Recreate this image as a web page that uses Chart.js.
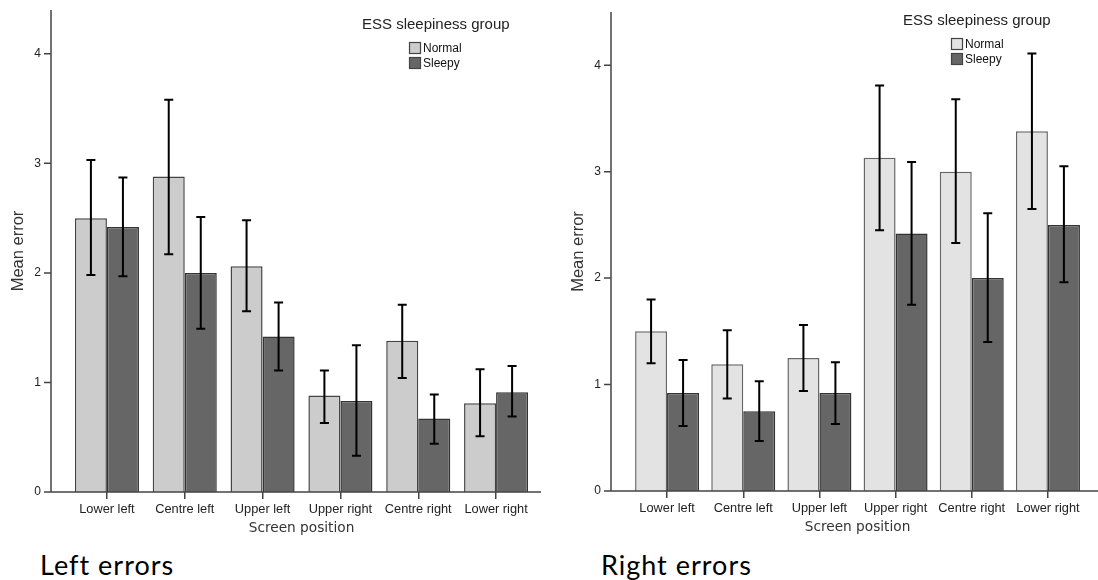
<!DOCTYPE html>
<html>
<head>
<meta charset="utf-8">
<script src="https://cdn.jsdelivr.net/npm/chart.js@4.4.1/dist/chart.umd.min.js"></script>
<style>
  body { margin: 0; background: #fff; }
  #wrap { position: relative; width: 1098px; height: 580px; overflow: hidden; background: #fff; }
  canvas { position: absolute; top: 0; }
  #left-chart { left: 0; }
  #right-chart { left: 560px; }
  .caption { position: absolute; font-family: Lato, "Open Sans", sans-serif; font-size: 27px; letter-spacing: 1px; line-height: 1; color: #000; }
</style>
</head>
<body>
<div id="wrap">
  <canvas id="left-chart" width="550" height="540"></canvas>
  <canvas id="right-chart" width="538" height="540"></canvas>
  <div class="caption" style="left:40px; top:551px;">Left errors</div>
  <div class="caption" style="left:601px; top:551px;">Right errors</div>
</div>
<script>
// Screen positions (x categories)
const positions = ['Lower left', 'Centre left', 'Upper left', 'Upper right', 'Centre right', 'Lower right'];
const groups = ['Normal', 'Sleepy'];
const yTicks = [0, 1, 2, 3, 4];

// Left errors: means and error bar ends
const leftNormal = [2.50, 2.88, 2.06, 0.88, 1.38, 0.81];
const leftNormalLow = [1.98, 2.17, 1.65, 0.63, 1.04, 0.51];
const leftNormalHigh = [3.03, 3.58, 2.48, 1.11, 1.71, 1.12];
const leftSleepy = [2.42, 2.00, 1.42, 0.83, 0.67, 0.91];
const leftSleepyLow = [1.97, 1.49, 1.11, 0.33, 0.44, 0.69];
const leftSleepyHigh = [2.87, 2.51, 1.73, 1.34, 0.89, 1.15];

// Right errors: means and error bar ends
const rightNormal = [1.50, 1.19, 1.25, 3.13, 3.00, 3.38];
const rightNormalLow = [1.20, 0.87, 0.94, 2.45, 2.33, 2.65];
const rightNormalHigh = [1.80, 1.51, 1.56, 3.81, 3.68, 4.11];
const rightSleepy = [0.92, 0.75, 0.92, 2.42, 2.00, 2.50];
const rightSleepyLow = [0.61, 0.47, 0.63, 1.75, 1.40, 1.96];
const rightSleepyHigh = [1.23, 1.03, 1.21, 3.09, 2.61, 3.05];

const SANS = '"Liberation Sans", Arial, sans-serif';

// Axis lines sit a bit left of the first bar group, like SPSS draws them
const framePlugin = {
  id: 'frame',
  afterDraw(chart, args, opts) {
    const ctx = chart.ctx;
    const area = chart.chartArea;
    const y = chart.scales.y;
    ctx.save();
    ctx.strokeStyle = '#444';
    ctx.lineWidth = 1.5;
    ctx.beginPath();
    ctx.moveTo(opts.axisX, area.top);
    ctx.lineTo(opts.axisX, area.bottom);
    ctx.lineTo(opts.axisEnd, area.bottom);
    yTicks.forEach(v => {
      const py = y.getPixelForValue(v);
      ctx.moveTo(opts.axisX - 7, py);
      ctx.lineTo(opts.axisX, py);
    });
    ctx.stroke();
    ctx.restore();
  }
};

const errorBarPlugin = {
  id: 'errorBars',
  afterDatasetsDraw(chart) {
    const ctx = chart.ctx;
    const y = chart.scales.y;
    ctx.save();
    ctx.strokeStyle = '#000';
    ctx.lineWidth = 2;
    chart.data.datasets.forEach((ds, di) => {
      const meta = chart.getDatasetMeta(di);
      meta.data.forEach((bar, i) => {
        const top = y.getPixelForValue(ds.errHigh[i]);
        const bottom = y.getPixelForValue(ds.errLow[i]);
        ctx.beginPath();
        ctx.moveTo(bar.x, top);
        ctx.lineTo(bar.x, bottom);
        ctx.moveTo(bar.x - 4.5, top);
        ctx.lineTo(bar.x + 4.5, top);
        ctx.moveTo(bar.x - 4.5, bottom);
        ctx.lineTo(bar.x + 4.5, bottom);
        ctx.stroke();
      });
    });
    ctx.restore();
  }
};

const groupLegendPlugin = {
  id: 'groupLegend',
  afterDraw(chart, args, opts) {
    const ctx = chart.ctx;
    ctx.save();
    ctx.textBaseline = 'middle';
    ctx.fillStyle = '#222';
    ctx.font = '15px ' + SANS;
    ctx.fillText('ESS sleepiness group', opts.titleX, opts.titleY);
    ctx.font = '12px ' + SANS;
    chart.data.datasets.forEach((ds, i) => {
      const by = opts.boxY + i * 15;
      ctx.fillStyle = ds.backgroundColor;
      ctx.fillRect(opts.boxX, by, 12, 12);
      ctx.strokeStyle = '#444';
      ctx.lineWidth = 1.2;
      ctx.strokeRect(opts.boxX + 0.5, by + 0.5, 11, 11);
      ctx.fillStyle = '#111';
      ctx.fillText(ds.label, opts.boxX + 14, by + 6.5);
    });
    ctx.restore();
  }
};

function createErrorChart(canvasId, normal, normalLow, normalHigh, sleepy, sleepyLow, sleepyHigh, cfg) {
  const ctx = document.getElementById(canvasId).getContext('2d');
  return new Chart(ctx, {
    type: 'bar',
    data: {
      labels: positions,
      datasets: [{
        label: groups[0],
        data: normal,
        errLow: normalLow,
        errHigh: normalHigh,
        backgroundColor: cfg.normalColor,
        borderColor: cfg.normalBorder,
        borderWidth: 1.5
      }, {
        label: groups[1],
        data: sleepy,
        errLow: sleepyLow,
        errHigh: sleepyHigh,
        backgroundColor: '#666666',
        borderColor: '#333333',
        borderWidth: 1.5
      }]
    },
    plugins: [framePlugin, errorBarPlugin, groupLegendPlugin],
    options: {
      responsive: false,
      animation: false,
      devicePixelRatio: 1,
      categoryPercentage: cfg.catPct,
      barPercentage: 1.0,
      layout: { padding: { top: cfg.top, right: cfg.right, left: 0, bottom: 0 } },
      plugins: {
        legend: { display: false },
        tooltip: { enabled: false },
        frame: { axisX: cfg.axisX, axisEnd: cfg.axisEnd },
        groupLegend: cfg.legend
      },
      scales: {
        x: {
          grid: { display: true, drawOnChartArea: false, drawTicks: true, tickLength: 7, offset: false, color: '#444', lineWidth: 1.5 },
          border: { display: false },
          ticks: { color: '#222', padding: 3, maxRotation: 0, autoSkip: false, font: { family: SANS, size: 12.8 } },
          title: {
            display: true,
            text: 'Screen position',
            color: '#333',
            font: { family: '"DejaVu Sans", sans-serif', size: 13.7 },
            padding: { top: 0, bottom: cfg.xTitlePad }
          },
          afterFit: scale => { scale.height = cfg.xHeight; }
        },
        y: {
          min: 0,
          max: cfg.yMax,
          grid: { display: false, drawTicks: false },
          border: { display: false },
          ticks: {
            stepSize: 1,
            padding: cfg.yTickPad,
            color: '#222',
            font: { family: SANS, size: 12 },
            callback: v => (Number.isInteger(v) ? v : '')
          },
          title: {
            display: true,
            text: 'Mean error',
            color: '#333',
            font: { family: SANS, size: 16.5 },
            padding: { top: 9, bottom: 0 }
          },
          afterFit: scale => {
            scale.width = cfg.yWidth;
            // the big label padding should not push the plot down
            scale.paddingTop = 0;
            scale.paddingBottom = 0;
          }
        }
      }
    }
  });
}

createErrorChart('left-chart', leftNormal, leftNormalLow, leftNormalHigh, leftSleepy, leftSleepyLow, leftSleepyHigh, {
  normalColor: '#cccccc', normalBorder: '#444444',
  catPct: 0.823, top: 10, right: 15, yMax: 4.4,
  axisX: 51, axisEnd: 541, yWidth: 68, yTickPad: 27, xHeight: 48, xTitlePad: 3.8,
  legend: { titleX: 362, titleY: 25, boxX: 409, boxY: 42 }
});

createErrorChart('right-chart', rightNormal, rightNormalLow, rightNormalHigh, rightSleepy, rightSleepyLow, rightSleepyHigh, {
  normalColor: '#e3e3e3', normalBorder: '#666666',
  catPct: 0.84, top: 12, right: 12, yMax: 4.5,
  axisX: 51, axisEnd: 538, yWidth: 69, yTickPad: 28, xHeight: 49, xTitlePad: 4.8,
  legend: { titleX: 343, titleY: 21, boxX: 391, boxY: 38 }
});
</script>
</body>
</html>
